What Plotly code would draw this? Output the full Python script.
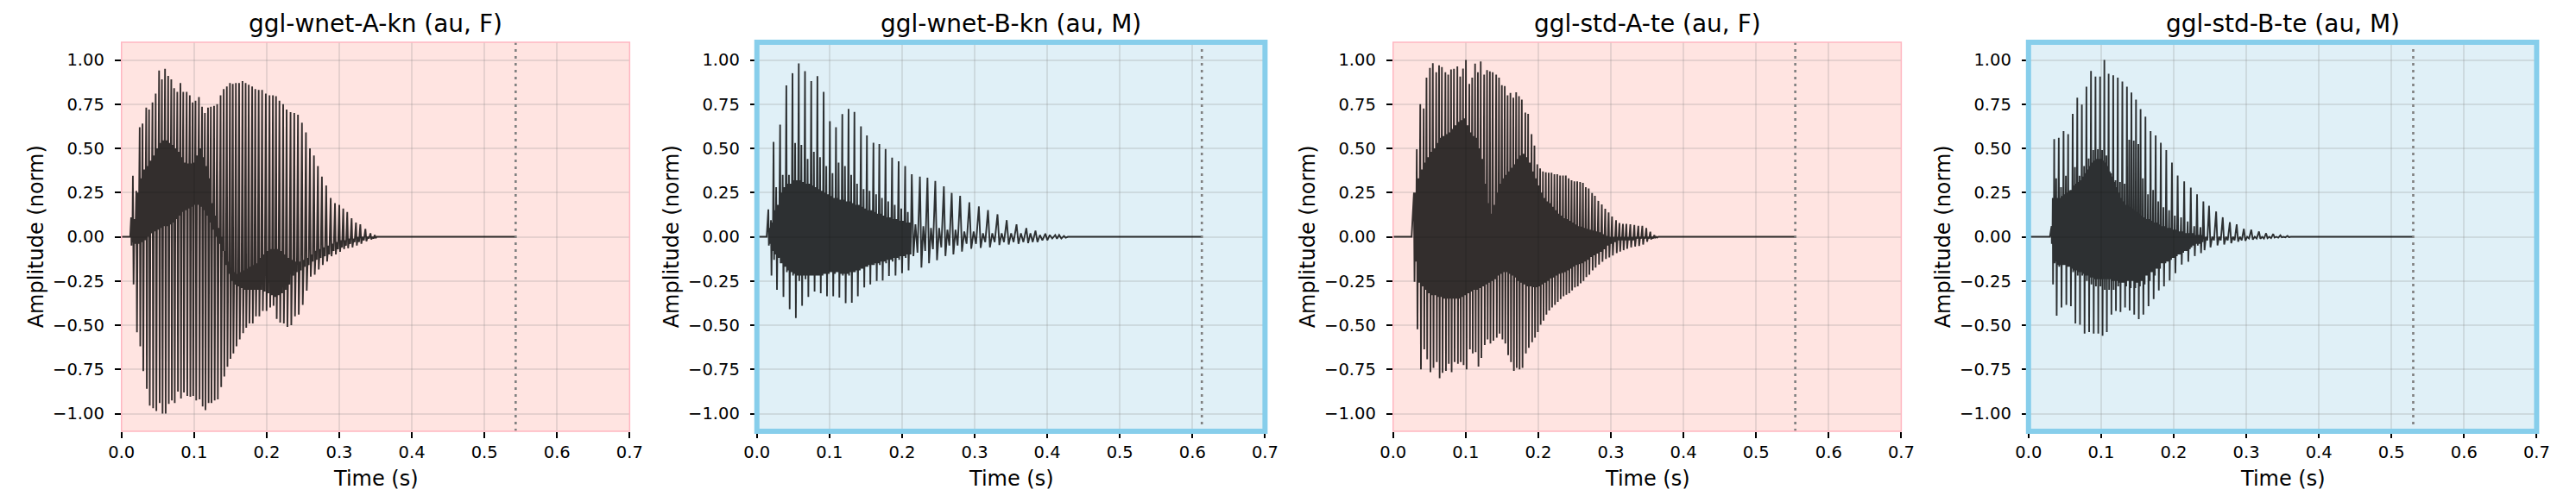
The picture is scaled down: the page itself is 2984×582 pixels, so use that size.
"""
Waveforms of four synthesized utterances (F/M speakers), one panel each
"""

import plotly.graph_objects as go
from plotly.subplots import make_subplots


TITLES = ['ggl-wnet-A-kn (au, F)', 'ggl-wnet-B-kn (au, M)',
          'ggl-std-A-te (au, F)', 'ggl-std-B-te (au, M)']
SPEAKER_SEX = ['F', 'M', 'F', 'M']
ONSETS = [0.012, 0.0135, 0.0255, 0.0295]       # end of leading silence, s
DURATIONS = [0.543, 0.613, 0.554, 0.530]       # file length (dotted line), s

X_TICKS = [0.0, 0.1, 0.2, 0.3, 0.4, 0.5, 0.6, 0.7]
Y_TICKS = [-1.0, -0.75, -0.5, -0.25, 0.0, 0.25, 0.5, 0.75, 1.0]

# pitch pulses:
# T = pulse time (s), HI = positive peak, LO = negative peak,
# CT / CB = top / bottom of the dense band the waveform rings in between pulses
T1 = [0.0133, 0.0157, 0.0204, 0.0251, 0.0290, 0.0341, 0.0380, 0.0427, 0.0471, 0.0518,
      0.0557, 0.0600, 0.0643, 0.0686, 0.0725, 0.0769, 0.0812, 0.0851, 0.0898, 0.0941,
      0.0980, 0.1020, 0.1067, 0.1110, 0.1149, 0.1192, 0.1231, 0.1275, 0.1318, 0.1365,
      0.1408, 0.1451, 0.1494, 0.1533, 0.1576, 0.1620, 0.1667, 0.1710, 0.1753, 0.1800,
      0.1843, 0.1890, 0.1937, 0.1988, 0.2039, 0.2086, 0.2129, 0.2176, 0.2227, 0.2275,
      0.2329, 0.2380, 0.2431, 0.2486, 0.2541, 0.2596, 0.2651, 0.2706, 0.2761, 0.2820,
      0.2882, 0.2941, 0.3000, 0.3055, 0.3110, 0.3170, 0.3230, 0.3290, 0.3360, 0.3430,
      0.3490]
HI1 = [0.11, 0.345, 0.26, 0.62, 0.64, 0.73, 0.72, 0.76, 0.81, 0.94,
       0.89, 0.95, 0.91, 0.89, 0.84, 0.82, 0.87, 0.82, 0.82, 0.80,
       0.76, 0.77, 0.79, 0.735, 0.70, 0.73, 0.735, 0.74, 0.75, 0.80,
       0.835, 0.85, 0.87, 0.865, 0.87, 0.87, 0.88, 0.87, 0.86, 0.85,
       0.835, 0.83, 0.83, 0.81, 0.80, 0.80, 0.795, 0.77, 0.75, 0.72,
       0.705, 0.70, 0.69, 0.645, 0.59, 0.50, 0.46, 0.40, 0.34, 0.29,
       0.22, 0.19, 0.18, 0.16, 0.14, 0.105, 0.08, 0.07, 0.045, 0.02,
       0.01]
LO1 = [-0.05, -0.27, -0.54, -0.62, -0.76, -0.86, -0.955, -0.97, -0.985, -0.94,
       -1.0, -1.0, -0.945, -0.925, -0.94, -0.875, -0.915, -0.88, -0.90, -0.905,
       -0.90, -0.925, -0.92, -0.96, -0.98, -0.94, -0.94, -0.925, -0.92, -0.85,
       -0.79, -0.735, -0.69, -0.66, -0.62, -0.58, -0.545, -0.515, -0.49, -0.49,
       -0.45, -0.45, -0.42, -0.42, -0.40, -0.39, -0.465, -0.485, -0.49, -0.51,
       -0.50, -0.45, -0.44, -0.385, -0.305, -0.225, -0.215, -0.185, -0.16, -0.14,
       -0.11, -0.10, -0.085, -0.07, -0.065, -0.06, -0.05, -0.04, -0.025, -0.015,
       -0.008]
CT1 = [0.08, 0.10, 0.25, 0.33, 0.38, 0.40, 0.43, 0.46, 0.50, 0.53,
       0.545, 0.545, 0.53, 0.52, 0.50, 0.48, 0.45, 0.42, 0.415, 0.415,
       0.42, 0.46, 0.50, 0.45, 0.40, 0.33, 0.19, 0.12, 0.05, 0.0,
       -0.08, -0.14, -0.18, -0.20, -0.21, -0.20, -0.19, -0.18, -0.17, -0.16,
       -0.15, -0.12, -0.10, -0.08, -0.07, -0.07, -0.07, -0.08, -0.10, -0.12,
       -0.13, -0.14, -0.14, -0.13, -0.12, -0.10, -0.08, -0.07, -0.06, -0.05,
       -0.04, -0.03, -0.02, -0.02, -0.01, -0.01, 0.0, 0.0, 0.0, 0.0,
       0.0]
CB1 = [-0.03, -0.04, -0.04, -0.03, -0.02, 0.0, 0.02, 0.03, 0.04, 0.05,
       0.06, 0.06, 0.07, 0.08, 0.10, 0.12, 0.14, 0.15, 0.16, 0.17,
       0.18, 0.18, 0.17, 0.15, 0.12, 0.08, 0.04, 0.0, -0.04, -0.08,
       -0.16, -0.21, -0.25, -0.27, -0.28, -0.29, -0.30, -0.30, -0.30, -0.30,
       -0.30, -0.30, -0.31, -0.32, -0.33, -0.34, -0.33, -0.32, -0.30, -0.27,
       -0.22, -0.20, -0.19, -0.17, -0.16, -0.14, -0.13, -0.12, -0.11, -0.10,
       -0.08, -0.07, -0.06, -0.05, -0.04, -0.03, -0.03, -0.02, -0.01, -0.01,
       0.0]

T2 = [0.0158, 0.0194, 0.0230, 0.0266, 0.0320, 0.0356, 0.0406, 0.0442, 0.0491, 0.0527,
      0.0577, 0.0613, 0.0663, 0.0699, 0.0749, 0.0785, 0.0834, 0.0870, 0.0920, 0.0956,
      0.1006, 0.1042, 0.1090, 0.1126, 0.1177, 0.1213, 0.1263, 0.1299, 0.1344, 0.1380,
      0.1434, 0.1470, 0.1516, 0.1552, 0.1606, 0.1642, 0.1687, 0.1723, 0.1773, 0.1809,
      0.1863, 0.1899, 0.1953, 0.1989, 0.2043, 0.2079, 0.2134, 0.2246, 0.2350, 0.2458,
      0.2576, 0.2684, 0.2800, 0.2927, 0.3058, 0.3184, 0.3315, 0.3442, 0.3577, 0.3712,
      0.3838, 0.3974, 0.4110, 0.4230]
HI2 = [0.155, 0.094, 0.537, 0.28, 0.634, 0.35, 0.856, 0.35, 0.925, 0.53,
       0.98, 0.52, 0.937, 0.44, 0.88, 0.48, 0.908, 0.45, 0.82, 0.40,
       0.654, 0.36, 0.62, 0.42, 0.694, 0.40, 0.723, 0.35, 0.706, 0.30,
       0.624, 0.27, 0.573, 0.26, 0.532, 0.24, 0.524, 0.22, 0.496, 0.20,
       0.448, 0.18, 0.427, 0.16, 0.40, 0.14, 0.354, 0.34, 0.334, 0.316,
       0.285, 0.248, 0.232, 0.195, 0.172, 0.151, 0.127, 0.094, 0.07, 0.049,
       0.034, 0.018, 0.01, 0.005]
LO2 = [-0.05, -0.22, -0.13, -0.30, -0.15, -0.34, -0.20, -0.41, -0.22, -0.46,
       -0.25, -0.39, -0.24, -0.34, -0.22, -0.31, -0.22, -0.32, -0.21, -0.336,
       -0.20, -0.336, -0.20, -0.344, -0.22, -0.376, -0.22, -0.373, -0.20, -0.336,
       -0.18, -0.287, -0.17, -0.27, -0.16, -0.25, -0.16, -0.247, -0.15, -0.222,
       -0.14, -0.22, -0.13, -0.206, -0.12, -0.19, -0.11, -0.174, -0.15, -0.133,
       -0.109, -0.10, -0.084, -0.068, -0.063, -0.06, -0.047, -0.044, -0.04, -0.036,
       -0.03, -0.02, -0.011, -0.005]
CT2 = [0.05, 0.08, 0.15, 0.18, 0.25, 0.28, 0.30, 0.30, 0.32, 0.32,
       0.32, 0.31, 0.30, 0.30, 0.29, 0.28, 0.27, 0.26, 0.25, 0.24,
       0.23, 0.22, 0.22, 0.21, 0.21, 0.20, 0.20, 0.19, 0.18, 0.18,
       0.17, 0.16, 0.15, 0.15, 0.14, 0.13, 0.13, 0.12, 0.11, 0.11,
       0.10, 0.10, 0.09, 0.09, 0.08, 0.08, 0.07, 0.06, 0.05, 0.05,
       0.04, 0.04, 0.03, 0.03, 0.02, 0.02, 0.02, 0.02, 0.02, 0.02,
       0.01, 0.01, 0.01, 0.0]
CB2 = [-0.04, -0.08, -0.10, -0.12, -0.15, -0.17, -0.19, -0.20, -0.21, -0.22,
       -0.22, -0.22, -0.22, -0.22, -0.22, -0.22, -0.22, -0.22, -0.21, -0.21,
       -0.21, -0.21, -0.21, -0.21, -0.21, -0.21, -0.20, -0.20, -0.19, -0.19,
       -0.18, -0.17, -0.16, -0.16, -0.15, -0.15, -0.14, -0.14, -0.13, -0.13,
       -0.12, -0.12, -0.11, -0.11, -0.10, -0.10, -0.09, -0.08, -0.07, -0.06,
       -0.05, -0.05, -0.04, -0.04, -0.03, -0.03, -0.03, -0.03, -0.03, -0.03,
       -0.02, -0.01, -0.01, 0.0]

T3 = [0.0287, 0.0326, 0.0374, 0.0421, 0.0460, 0.0507, 0.0547, 0.0594, 0.0633, 0.0672,
      0.0720, 0.0759, 0.0798, 0.0838, 0.0885, 0.0924, 0.0963, 0.1003, 0.1050, 0.1089,
      0.1129, 0.1168, 0.1207, 0.1254, 0.1294, 0.1333, 0.1372, 0.1420, 0.1459, 0.1498,
      0.1538, 0.1577, 0.1616, 0.1656, 0.1695, 0.1734, 0.1773, 0.1821, 0.1860, 0.1907,
      0.1947, 0.1986, 0.2025, 0.2064, 0.2104, 0.2143, 0.2182, 0.2222, 0.2261, 0.2300,
      0.2340, 0.2379, 0.2418, 0.2458, 0.2497, 0.2536, 0.2576, 0.2615, 0.2654, 0.2694,
      0.2741, 0.2780, 0.2827, 0.2875, 0.2922, 0.2969, 0.3016, 0.3071, 0.3118, 0.3166,
      0.3213, 0.3268, 0.3323, 0.3378, 0.3433, 0.3488, 0.3543, 0.3598]
HI3 = [0.25, 0.495, 0.75, 0.726, 0.90, 0.955, 0.982, 0.93, 0.97, 0.96,
       0.93, 0.917, 0.946, 0.95, 0.963, 0.906, 0.951, 1.0, 0.865, 0.90,
       0.979, 0.93, 0.992, 0.917, 0.943, 0.935, 0.93, 0.917, 0.90, 0.857,
       0.852, 0.80, 0.813, 0.787, 0.817, 0.795, 0.776, 0.703, 0.695, 0.581,
       0.516, 0.41, 0.386, 0.37, 0.365, 0.362, 0.362, 0.354, 0.354, 0.346,
       0.346, 0.346, 0.33, 0.32, 0.313, 0.313, 0.31, 0.305, 0.28, 0.273,
       0.248, 0.232, 0.203, 0.183, 0.159, 0.138, 0.115, 0.094, 0.078, 0.073,
       0.073, 0.07, 0.067, 0.062, 0.062, 0.05, 0.029, 0.01]
LO3 = [-0.255, -0.523, -0.75, -0.636, -0.693, -0.766, -0.742, -0.709, -0.80, -0.77,
       -0.758, -0.718, -0.766, -0.709, -0.718, -0.709, -0.725, -0.75, -0.636, -0.66,
       -0.653, -0.734, -0.685, -0.612, -0.58, -0.604, -0.588, -0.571, -0.547, -0.58,
       -0.604, -0.669, -0.709, -0.758, -0.742, -0.75, -0.742, -0.66, -0.628, -0.596,
       -0.571, -0.539, -0.498, -0.474, -0.44, -0.417, -0.40, -0.385, -0.368, -0.352,
       -0.336, -0.328, -0.32, -0.304, -0.287, -0.28, -0.263, -0.25, -0.228, -0.214,
       -0.19, -0.174, -0.157, -0.141, -0.125, -0.117, -0.106, -0.093, -0.084, -0.076,
       -0.068, -0.06, -0.055, -0.052, -0.044, -0.028, -0.015, -0.005]
CT3 = [0.25, 0.33, 0.38, 0.42, 0.45, 0.48, 0.50, 0.53, 0.56, 0.57,
       0.58, 0.59, 0.61, 0.63, 0.65, 0.66, 0.67, 0.63, 0.59, 0.57,
       0.56, 0.50, 0.44, 0.30, 0.19, 0.13, 0.18, 0.25, 0.30, 0.33,
       0.35, 0.37, 0.39, 0.41, 0.44, 0.46, 0.47, 0.45, 0.42, 0.37,
       0.33, 0.29, 0.25, 0.22, 0.20, 0.19, 0.17, 0.15, 0.13, 0.12,
       0.105, 0.10, 0.09, 0.08, 0.07, 0.06, 0.057, 0.05, 0.045, 0.04,
       0.035, 0.03, 0.025, 0.015, 0.005, 0.0, 0.0, 0.0, 0.0, 0.0,
       0.0, 0.0, 0.0, 0.0, 0.0, 0.0, 0.0, 0.0]
CB3 = [-0.14, -0.26, -0.28, -0.30, -0.32, -0.33, -0.33, -0.34, -0.34, -0.35,
       -0.35, -0.35, -0.35, -0.35, -0.35, -0.34, -0.33, -0.32, -0.31, -0.30,
       -0.30, -0.29, -0.28, -0.27, -0.26, -0.25, -0.24, -0.22, -0.21, -0.20,
       -0.20, -0.21, -0.22, -0.23, -0.25, -0.26, -0.27, -0.28, -0.28, -0.285,
       -0.285, -0.28, -0.27, -0.26, -0.25, -0.235, -0.23, -0.22, -0.21, -0.205,
       -0.20, -0.19, -0.18, -0.17, -0.16, -0.155, -0.15, -0.14, -0.13, -0.115,
       -0.105, -0.095, -0.085, -0.07, -0.05, -0.04, -0.03, -0.02, -0.02, -0.02,
       -0.02, -0.02, -0.01, -0.01, -0.01, -0.01, -0.01, -0.01]

T4 = [0.0318, 0.0334, 0.0354, 0.0381, 0.0417, 0.0448, 0.0483, 0.0515, 0.0546, 0.0578,
      0.0609, 0.0640, 0.0672, 0.0703, 0.0735, 0.0766, 0.0798, 0.0829, 0.0861, 0.0892,
      0.0923, 0.0955, 0.0986, 0.1014, 0.1045, 0.1073, 0.1104, 0.1136, 0.1167, 0.1198,
      0.1230, 0.1261, 0.1293, 0.1324, 0.1356, 0.1387, 0.1418, 0.1450, 0.1481, 0.1513,
      0.1544, 0.1575, 0.1611, 0.1646, 0.1682, 0.1717, 0.1752, 0.1788, 0.1823, 0.1859,
      0.1898, 0.1937, 0.1976, 0.2016, 0.2055, 0.2102, 0.2145, 0.2193, 0.2236, 0.2283,
      0.2322, 0.2369, 0.2409, 0.2487, 0.2585, 0.2676, 0.2774, 0.2868, 0.2967, 0.3069,
      0.3175, 0.3273, 0.3371, 0.3470, 0.3568]
HI4 = [0.06, 0.22, 0.553, 0.33, 0.56, 0.28, 0.597, 0.345, 0.58, 0.265,
       0.695, 0.394, 0.787, 0.345, 0.748, 0.40, 0.849, 0.443, 0.938, 0.49,
       0.906, 0.495, 0.906, 0.49, 1.0, 0.46, 0.922, 0.36, 0.914, 0.32,
       0.90, 0.31, 0.878, 0.30, 0.849, 0.549, 0.816, 0.544, 0.776, 0.524,
       0.722, 0.33, 0.679, 0.24, 0.597, 0.265, 0.573, 0.20, 0.532, 0.167,
       0.49, 0.15, 0.419, 0.12, 0.346, 0.11, 0.313, 0.086, 0.278, 0.06,
       0.24, 0.054, 0.20, 0.175, 0.143, 0.11, 0.083, 0.07, 0.045, 0.04,
       0.03, 0.02, 0.016, 0.008, 0.005]
LO4 = [-0.04, -0.27, -0.15, -0.446, -0.17, -0.40, -0.16, -0.385, -0.17, -0.393,
       -0.20, -0.49, -0.22, -0.498, -0.22, -0.547, -0.25, -0.539, -0.27, -0.547,
       -0.28, -0.547, -0.28, -0.56, -0.30, -0.539, -0.30, -0.44, -0.30, -0.42,
       -0.28, -0.425, -0.26, -0.40, -0.25, -0.417, -0.25, -0.44, -0.26, -0.466,
       -0.25, -0.44, -0.22, -0.393, -0.20, -0.352, -0.18, -0.304, -0.15, -0.28,
       -0.14, -0.247, -0.12, -0.206, -0.10, -0.157, -0.08, -0.141, -0.06, -0.109,
       -0.05, -0.093, -0.076, -0.06, -0.049, -0.044, -0.036, -0.028, -0.023, -0.016,
       -0.011, -0.008, -0.005, -0.003, -0.002]
CT4 = [0.05, 0.15, 0.20, 0.22, 0.22, 0.23, 0.24, 0.25, 0.26, 0.28,
       0.29, 0.30, 0.31, 0.32, 0.34, 0.36, 0.38, 0.40, 0.42, 0.43,
       0.44, 0.44, 0.44, 0.43, 0.42, 0.40, 0.37, 0.34, 0.31, 0.28,
       0.25, 0.22, 0.20, 0.18, 0.17, 0.17, 0.16, 0.15, 0.14, 0.13,
       0.12, 0.11, 0.10, 0.10, 0.09, 0.08, 0.08, 0.07, 0.06, 0.06,
       0.05, 0.05, 0.04, 0.04, 0.03, 0.03, 0.02, 0.02, 0.02, 0.01,
       0.01, 0.01, 0.0, 0.0, 0.0, 0.0, 0.0, 0.0, 0.0, 0.0,
       0.0, 0.0, 0.0, 0.0, 0.0]
CB4 = [-0.04, -0.10, -0.14, -0.16, -0.16, -0.16, -0.17, -0.17, -0.18, -0.18,
       -0.19, -0.19, -0.20, -0.20, -0.21, -0.22, -0.22, -0.23, -0.23, -0.24,
       -0.24, -0.24, -0.24, -0.24, -0.24, -0.24, -0.24, -0.25, -0.25, -0.25,
       -0.26, -0.26, -0.27, -0.28, -0.28, -0.29, -0.29, -0.29, -0.29, -0.28,
       -0.28, -0.27, -0.26, -0.25, -0.24, -0.22, -0.20, -0.18, -0.16, -0.15,
       -0.14, -0.13, -0.12, -0.11, -0.10, -0.09, -0.08, -0.07, -0.05, -0.04,
       -0.04, -0.03, -0.02, -0.02, -0.02, -0.02, -0.02, -0.02, -0.01, -0.01,
       -0.01, -0.01, -0.01, -0.01, 0.0]

PULSES = [(T1, HI1, LO1, CT1, CB1), (T2, HI2, LO2, CT2, CB2),
          (T3, HI3, LO3, CT3, CB3), (T4, HI4, LO4, CT4, CB4)]

# page geometry (px); the page body adds an 8 px margin on top/left
W, H = 2984, 582
PAGE_PAD = 8
PANEL_LEFT = [126, 870, 1615, 2359]
PANEL_W = 595
PLOT_TOP, PLOT_BOTTOM = 49, 500

STYLE = {
    'F': dict(bg='#FFE4E1', edge='#FFB6C1', edge_w=1.5),
    'M': dict(bg='#E0F0F7', edge='#87CEEB', edge_w=6),
}
FONT = 'DejaVu Sans'


def wave(onset, pulses, duration):
    """ per period: peak, deep trough, ring up to band top, down to band bottom """
    times, highs, lows, tops, bots = pulses
    xs, ys = [0.0, onset], [0.0, 0.0]
    step = 0.005
    for i, t in enumerate(times):
        if i + 1 < len(times):
            step = times[i + 1] - t
        top = min(tops[i], highs[i])
        bot = max(bots[i], lows[i])
        xs += [t, t + 0.2 * step, t + 0.45 * step, t + 0.7 * step]
        ys += [highs[i], lows[i], top, bot]
    xs += [times[-1] + step, duration]
    ys += [0.0, 0.0]
    return xs, ys


def px_x(px):
    return (px - PAGE_PAD) / W


def px_y(px):
    return 1 - (px - PAGE_PAD) / H


fig = make_subplots(rows=1, cols=4)

for k in range(4):
    n = k + 1
    st = STYLE[SPEAKER_SEX[k]]
    xs, ys = wave(ONSETS[k], PULSES[k], DURATIONS[k])
    fig.add_trace(go.Scatter(x=xs, y=ys, mode='lines', hoverinfo='skip', showlegend=False,
                             line=dict(color='rgba(0,0,0,0.8)', width=1.9, simplify=False)),
                  row=1, col=n)

    sfx = '' if n == 1 else str(n)
    fig.layout['xaxis' + sfx].update(
        domain=[px_x(PANEL_LEFT[k]), px_x(PANEL_LEFT[k] + PANEL_W)],
        range=[0, 0.7], tickvals=X_TICKS, tickformat='.1f',
        ticks='outside', ticklen=7, tickwidth=1.5, tickcolor='black',
        showgrid=True, gridcolor='rgba(128,128,128,0.2)', gridwidth=1.5,
        zeroline=False, showline=False, ticklabelstandoff=0,
        tickfont=dict(family=FONT, size=19.5, color='black'))
    fig.layout['yaxis' + sfx].update(
        domain=[px_y(PLOT_BOTTOM), px_y(PLOT_TOP)], range=[-1.1, 1.1],
        tickvals=Y_TICKS, tickformat='.2f',
        ticks='outside', ticklen=7, tickwidth=1.5, tickcolor='black',
        showgrid=True, gridcolor='rgba(128,128,128,0.2)', gridwidth=1.5,
        zeroline=False, showline=False, ticklabelstandoff=8,
        tickfont=dict(family=FONT, size=19.5, color='black'))

    xd, yd = 'x' + sfx + ' domain', 'y' + sfx + ' domain'
    fig.add_shape(type='rect', xref=xd, yref=yd, x0=0, x1=1, y0=0, y1=1,
                  fillcolor=st['bg'], line=dict(width=0), layer='below')
    fig.add_shape(type='line', xref='x' + sfx, yref=yd, x0=DURATIONS[k], x1=DURATIONS[k],
                  y0=0, y1=1, line=dict(color='gray', width=2.6, dash='3px,5px'), layer='above')
    fig.add_shape(type='rect', xref=xd, yref=yd, x0=0, x1=1, y0=0, y1=1,
                  fillcolor='rgba(0,0,0,0)', line=dict(color=st['edge'], width=st['edge_w']),
                  layer='above')

    cx = px_x(PANEL_LEFT[k] + PANEL_W / 2)
    fig.add_annotation(text=TITLES[k], xref='paper', yref='paper', x=cx, y=px_y(27.5),
                       xanchor='center', yanchor='middle', showarrow=False,
                       font=dict(family=FONT, size=28, color='black'))
    fig.add_annotation(text='Time (s)', xref='paper', yref='paper', x=cx, y=px_y(554.5),
                       xanchor='center', yanchor='middle', showarrow=False,
                       font=dict(family=FONT, size=24, color='black'))
    fig.add_annotation(text='Amplitude (norm)', xref='paper', yref='paper',
                       x=px_x(PANEL_LEFT[k] - 99), y=px_y((PLOT_TOP + PLOT_BOTTOM) / 2),
                       textangle=-90, xanchor='center', yanchor='middle', showarrow=False,
                       font=dict(family=FONT, size=24, color='black'))

fig.update_layout(width=W, height=H, margin=dict(l=0, r=0, t=0, b=0),
                  paper_bgcolor='white', plot_bgcolor='rgba(0,0,0,0)')

fig.write_html('out.html')
